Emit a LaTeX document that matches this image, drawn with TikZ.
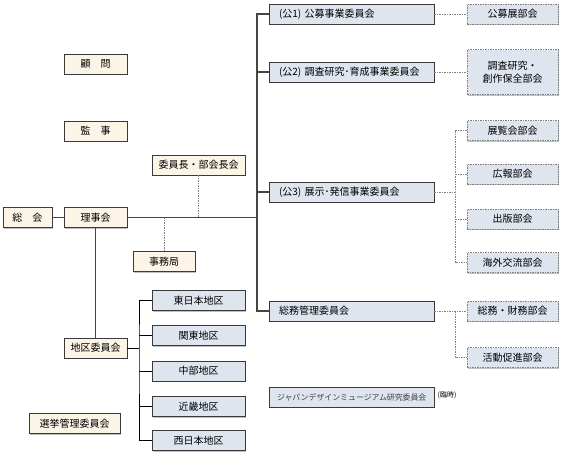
\documentclass[tikz,border=0pt]{standalone}
\usepackage{fontspec}
\setmainfont{Noto Sans CJK JP}
\usetikzlibrary{shadows}

\definecolor{cream}{HTML}{FCF4E6}
\definecolor{paleblue}{HTML}{DEE5EF}
\definecolor{edge}{HTML}{3A3A3A}

\tikzset{
  box/.style={draw=edge, line width=.75pt, minimum height=20pt, inner sep=0pt,
    font=\fontsize{10}{13.5}\selectfont,
    drop shadow={shadow xshift=1.4pt, shadow yshift=-1.4pt, opacity=.5, fill=gray}},
  ybox/.style={box, fill=cream},
  bbox/.style={box, fill=paleblue},
  cbox/.style={bbox, inner xsep=10pt, text width=145pt, align=left},
  dbox/.style={bbox, draw=gray, dash pattern=on 1.5pt off 1pt, minimum width=91pt},
  trunk/.style={line width=1.2pt, draw=gray!55!black},
  twig/.style={line width=.8pt, draw=black},
  dots/.style={line width=.5pt, draw=gray, dash pattern=on 1.5pt off 1pt}
}

\begin{document}
\begin{tikzpicture}[x=1pt, y=-1pt]
      \useasboundingbox (0,0) rectangle (564,458);

        %%left side
        \node[ybox, minimum width=49pt] (soukai) at (27.5,217.5) {総　会};
        \node[ybox, minimum width=63pt] (rijikai) at (95.5,217.5) {理事会};
        \node[ybox, minimum width=63pt] (komon) at (95.5,64) {顧　問};
        \node[ybox, minimum width=63pt] (kanji) at (95.5,131) {監　事};
        \node[ybox, minimum width=93pt] (chou) at (198.5,165) {委員長・部会長会};
        \node[ybox, minimum width=62pt] (jimu) at (164,261.5) {事務局};
        \node[ybox, minimum width=63pt] (chiku) at (95.5,348) {地区委員会};
        \node[ybox, minimum width=91pt] (senkyo) at (74.5,423.5) {選挙管理委員会};

        %%regions
        \node[bbox, minimum width=93pt] (east) at (198.5,300.5) {東日本地区};
        \node[bbox, minimum width=93pt] (kanto) at (198.5,335.5) {関東地区};
        \node[bbox, minimum width=93pt] (chubu) at (198.5,371) {中部地区};
        \node[bbox, minimum width=93pt] (kinki) at (198.5,406.5) {近畿地区};
        \node[bbox, minimum width=93pt] (west) at (198.5,440.5) {西日本地区};

        %%committees
        \node[cbox] (k1) at (351.5,14) {(公1) 公募事業委員会};
        \node[cbox] (k2) at (351.5,72) {(公2) 調査研究･育成事業委員会};
        \node[cbox] (k3) at (351.5,192) {(公3) 展示･発信事業委員会};
        \node[cbox] (sm) at (351.5,311) {総務管理委員会};
        \node[bbox, inner xsep=8pt, text width=149pt, align=left,
              font=\fontsize{7.9}{9}\selectfont, text=black!75] (jdm) at (351.5,397) {ジャパンデザインミュージアム研究委員会};
        \node[font=\fontsize{7}{8}\selectfont, inner sep=0pt] (rinji) at (447,395) {(臨時)};

        %%sections
        \node[dbox] (p1) at (512.5,14) {公募展部会};
        \node[dbox, minimum height=45pt, align=center] (p2) at (512.5,72) {調査研究・\\創作保全部会};
        \node[dbox] (p3) at (512.5,130.5) {展覧会部会};
        \node[dbox] (p4) at (512.5,174) {広報部会};
        \node[dbox] (p5) at (512.5,219) {出版部会};
        \node[dbox] (p6) at (512.5,262.5) {海外交流部会};
        \node[dbox] (p7) at (512.5,311) {総務・財務部会};
        \node[dbox] (p8) at (512.5,357.5) {活動促進部会};

        %%main lines
        \coordinate (spine) at (257,217.5);
        \draw[trunk] (soukai) -- (rijikai);
        \draw[trunk] (rijikai) -- (spine);
        \draw[trunk] (k1.west) -| (spine) |- (sm.west);
          \draw[trunk] (k2.west) -- (k2.west -| spine);
          \draw[trunk] (k3.west) -- (k3.west -| spine);
        \draw[trunk] (rijikai) -- (chiku);
        \draw[dots] (chou) -- (chou |- spine);
        \draw[dots] (jimu) -- (jimu |- spine);

        %%region fork
        \coordinate (fork) at (139,348);
        \draw[twig] (chiku) -- (fork);
        \draw[twig] (east.west) -| (fork) |- (west.west);
          \draw[twig] (kanto.west -| fork) -- (kanto.west);
          \draw[twig] (chubu.west -| fork) -- (chubu.west);
          \draw[twig] (kinki.west -| fork) -- (kinki.west);

        %%dotted links
        \coordinate (split3) at (455,192);
        \coordinate (split4) at (455,311);
        \draw[dots] (k1) -- (p1);
        \draw[dots] (k2) -- (p2);
        \draw[dots] (k3) -- (split3);
        \draw[dots] (p3.west) -| (split3) |- (p6.west);
          \draw[dots] (p4.west -| split3) -- (p4.west);
          \draw[dots] (p5.west -| split3) -- (p5.west);
        \draw[dots] (sm) -- (p7);
        \draw[dots] (split4) |- (p8.west);

\end{tikzpicture}
\end{document}
